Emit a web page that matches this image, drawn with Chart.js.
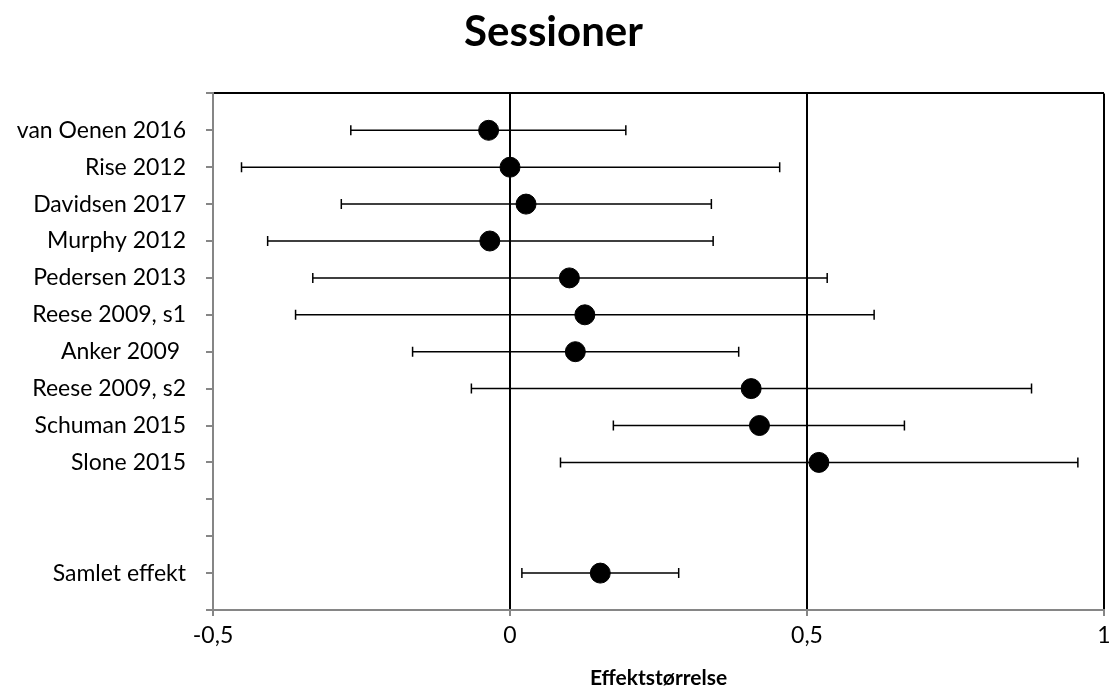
<!DOCTYPE html>
<html>
<head>
<meta charset="utf-8">
<script src="https://cdn.jsdelivr.net/npm/chart.js@4"></script>
<style>
  html, body { margin: 0; padding: 0; background: #fff; }
  #wrap { width: 1115px; height: 695px; }
</style>
</head>
<body>
<div id="wrap"><canvas id="chart"></canvas></div>
<script>
// studier fra toppen og ned, tomme rader før samlet effekt
const studies = ['van Oenen 2016', 'Rise 2012', 'Davidsen 2017', 'Murphy 2012', 'Pedersen 2013',
    'Reese 2009, s1', 'Anker 2009 ', 'Reese 2009, s2', 'Schuman 2015', 'Slone 2015', '', '', 'Samlet effekt'];
const effect = [-0.036, 0.0, 0.027, -0.034, 0.100, 0.126, 0.110, 0.406, 0.420, 0.520, null, null, 0.152];
const lower = [-0.268, -0.452, -0.284, -0.408, -0.332, -0.361, -0.164, -0.065, 0.174, 0.085, null, null, 0.020];
const upper = [0.195, 0.454, 0.339, 0.342, 0.534, 0.613, 0.385, 0.878, 0.664, 0.956, null, null, 0.284];
const xTicks = [-0.5, 0, 0.5, 1];

const FONT = 'Lato, "Open Sans", sans-serif';
const GRAY = '#868686';

const rows = studies.length;
const points = [];
effect.forEach((v, i) => {
    if (v !== null) points.push({ x: v, y: rows - i, lo: lower[i], hi: upper[i] });
});

// tegner konfidensintervallene med skalaene til grafen
const errorBars = {
    id: 'errorBars',
    beforeDatasetsDraw(chart) {
        const ctx = chart.ctx;
        const xs = chart.scales.x;
        const ys = chart.scales.y;
        ctx.save();
        ctx.strokeStyle = '#000';
        ctx.lineWidth = 1.5;
        points.forEach(p => {
            const y = ys.getPixelForValue(p.y);
            const x1 = xs.getPixelForValue(p.lo);
            const x2 = xs.getPixelForValue(p.hi);
            ctx.beginPath();
            ctx.moveTo(x1, y); ctx.lineTo(x2, y);
            ctx.moveTo(x1, y - 5); ctx.lineTo(x1, y + 5);
            ctx.moveTo(x2, y - 5); ctx.lineTo(x2, y + 5);
            ctx.stroke();
        });
        ctx.restore();
    }
};

const ctx = document.getElementById('chart').getContext('2d');
const chart = new Chart(ctx, {
    type: 'scatter',
    data: {
        datasets: [{
            data: points,
            backgroundColor: '#000',
            borderColor: '#000',
            pointRadius: 10,
            pointHoverRadius: 10
        }]
    },
    options: {
        responsive: true,
        maintainAspectRatio: false,
        animation: false,
        layout: { padding: { right: 8 } },
        plugins: {
            legend: { display: false },
            tooltip: { enabled: false },
            title: {
                display: true,
                text: 'Sessioner',
                color: '#000',
                font: { family: FONT, size: 42, weight: 'bold' },
                padding: { top: 7, bottom: 36 }
            }
        },
        scales: {
            x: {
                type: 'linear',
                min: -0.5,
                max: 1,
                afterBuildTicks: scale => { scale.ticks = xTicks.map(v => ({ value: v })); },
                afterFit: scale => {
                    scale.height = 85;
                    scale.paddingRight = 0;
                    scale.paddingLeft = 0;
                },
                ticks: {
                    color: '#000',
                    padding: 6,
                    font: { family: FONT, size: 23 },
                    callback: v => String(v).replace('.', ',')
                },
                grid: {
                    color: c => (c.tick && c.tick.value > -0.5) ? '#000' : 'rgba(0,0,0,0)',
                    lineWidth: 2,
                    tickColor: GRAY,
                    tickLength: 6
                },
                border: { color: GRAY, width: 2 },
                title: {
                    display: true,
                    text: 'Effektstørrelse',
                    color: '#000',
                    font: { family: FONT, size: 21, weight: 'bold' },
                    padding: { top: 13 }
                }
            },
            y: {
                type: 'linear',
                min: 0,
                max: rows + 1,
                afterBuildTicks: scale => {
                    const t = [];
                    for (let v = 0; v <= rows + 1; v++) t.push({ value: v });
                    scale.ticks = t;
                },
                afterFit: scale => { scale.width = 213; },
                ticks: {
                    color: '#000',
                    padding: 20,
                    font: { family: FONT, size: 23 },
                    callback: v => (v >= 1 && v <= rows) ? studies[rows - v] : ''
                },
                grid: {
                    color: c => (c.tick && c.tick.value === rows + 1) ? '#000' : 'rgba(0,0,0,0)',
                    lineWidth: 2,
                    tickColor: GRAY,
                    tickLength: 7
                },
                border: { color: GRAY, width: 2 }
            }
        }
    },
    plugins: [errorBars]
});
</script>
</body>
</html>
